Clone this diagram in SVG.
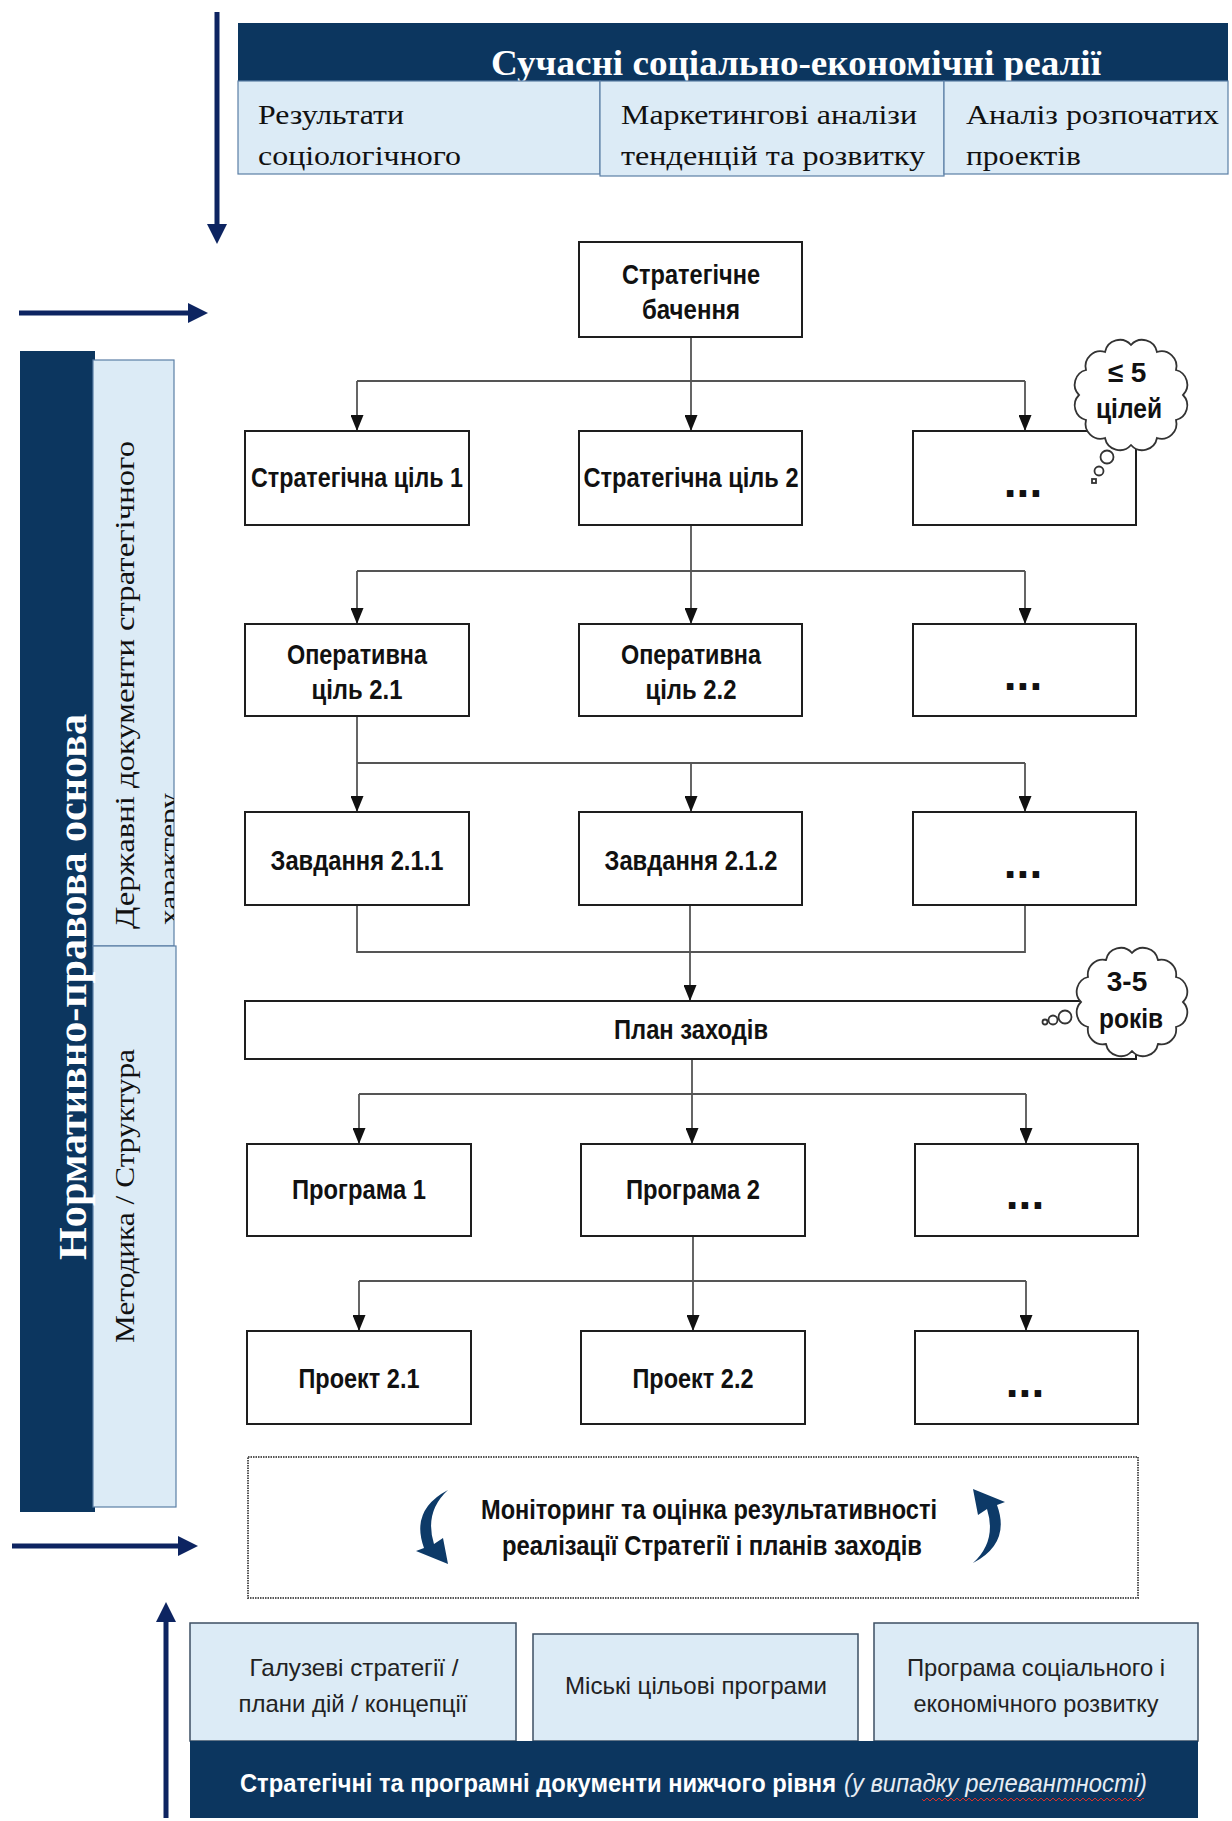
<svg xmlns="http://www.w3.org/2000/svg" width="1232" height="1821" viewBox="0 0 1232 1821">
<style>
.navy{fill:#0c365f}
.cell{fill:#dcebf6;stroke:#5b7fa6;stroke-width:1.2}
.bcell{fill:#dcebf6;stroke:#3d4f63;stroke-width:1.5}
.box{fill:#fff;stroke:#1e1e1e;stroke-width:2}
.lbl{font-family:"Liberation Sans Narrow","Arial Narrow","Liberation Sans",Arial,sans-serif;font-weight:bold;font-size:28px;fill:#111;text-anchor:middle}
.dots{font-family:"Liberation Sans",Arial,sans-serif;font-weight:bold;font-size:46px;fill:#111;text-anchor:middle}
.serif{font-family:"Liberation Serif","Times New Roman",serif;fill:#111;font-size:28px}
.conn{fill:none;stroke:#555;stroke-width:1.8}
.bigarrow{stroke:#0d2461;stroke-width:5;fill:none}
.btxt{font-family:"Liberation Sans Narrow","Arial Narrow","Liberation Sans",Arial,sans-serif;font-size:24px;fill:#222;text-anchor:middle}
.cloud{fill:#fff;stroke:#333;stroke-width:1.8}
</style>
<defs>
<marker id="ah" markerUnits="userSpaceOnUse" markerWidth="16" markerHeight="13" refX="16" refY="6.5" orient="auto">
<path d="M0,0 L16,6.5 L0,13 z" fill="#111"/>
</marker>
<marker id="bh" markerUnits="userSpaceOnUse" markerWidth="20" markerHeight="20" refX="2" refY="10" orient="auto">
<path d="M0,0 L20,10 L0,20 z" fill="#0d2461"/>
</marker>
<clipPath id="clipL"><rect x="93" y="360" width="81" height="586"/></clipPath>
<pattern id="wavy" patternUnits="userSpaceOnUse" x="0" y="1797" width="6" height="5">
<path d="M0,4 L3,1 L6,4" fill="none" stroke="#d9342b" stroke-width="1"/>
</pattern>
<path id="carrow" d="M448,1490 Q410,1510 424,1548 L416,1551 L448,1564 L443,1538 L434,1544 Q424,1512 448,1490 Z" fill="#0d3a68"/>
</defs>
<rect width="1232" height="1821" fill="#fff"/>

<!-- big navy arrows -->
<g id="side-arrows">
<path class="bigarrow" d="M217,12 V226" marker-end="url(#bh)"/>
<path class="bigarrow" d="M19,313 H190" marker-end="url(#bh)"/>
<path class="bigarrow" d="M12,1546 H180" marker-end="url(#bh)"/>
<path class="bigarrow" d="M166,1818 V1620" marker-end="url(#bh)"/>
</g>

<!-- header -->
<g id="header">
<rect class="navy" x="238" y="23" width="990" height="58"/>
<text x="491" y="75" font-family="Liberation Serif,Times New Roman,serif" font-weight="bold" font-size="35" fill="#fff" textLength="610" lengthAdjust="spacingAndGlyphs">Сучасні соціально-економічні реалії</text>
<rect class="cell" x="238" y="81" width="362" height="93"/>
<rect class="cell" x="600" y="81" width="344" height="95"/>
<rect class="cell" x="944" y="81" width="284" height="93"/>
<text class="serif" x="258" y="124" textLength="146" lengthAdjust="spacingAndGlyphs">Результати</text>
<text class="serif" x="258" y="165" textLength="203" lengthAdjust="spacingAndGlyphs">соціологічного</text>
<text class="serif" x="621" y="124" textLength="296" lengthAdjust="spacingAndGlyphs">Маркетингові аналізи</text>
<text class="serif" x="621" y="165" textLength="304" lengthAdjust="spacingAndGlyphs">тенденцій та розвитку</text>
<text class="serif" x="966" y="124" textLength="253" lengthAdjust="spacingAndGlyphs">Аналіз розпочатих</text>
<text class="serif" x="966" y="165" textLength="115" lengthAdjust="spacingAndGlyphs">проектів</text>
</g>

<!-- left side -->
<g id="legal-basis">
<rect class="navy" x="20" y="351" width="75" height="1161"/>
<rect class="cell" x="93" y="360" width="81" height="586"/>
<rect class="cell" x="93" y="946" width="83" height="561"/>
<text transform="translate(86,1260) rotate(-90)" font-family="Liberation Serif,Times New Roman,serif" font-weight="bold" font-size="40" fill="#fff" textLength="546" lengthAdjust="spacingAndGlyphs">Нормативно-правова основа</text>
<g clip-path="url(#clipL)">
<text class="serif" transform="translate(134,929) rotate(-90)" textLength="488" lengthAdjust="spacingAndGlyphs">Державні документи стратегічного</text>
<text class="serif" transform="translate(178,925) rotate(-90)" textLength="132" lengthAdjust="spacingAndGlyphs">характеру</text>
</g>
<text class="serif" transform="translate(134,1343) rotate(-90)" textLength="294" lengthAdjust="spacingAndGlyphs">Методика / Структура</text>
</g>

<!-- connectors -->
<g id="connectors">
<path class="conn" d="M691,337 V431" marker-end="url(#ah)"/>
<path class="conn" d="M357,381 H1025"/>
<path class="conn" d="M357,381 V431" marker-end="url(#ah)"/>
<path class="conn" d="M1025,381 V431" marker-end="url(#ah)"/>

<path class="conn" d="M691,525 V624" marker-end="url(#ah)"/>
<path class="conn" d="M357,571 H1025"/>
<path class="conn" d="M357,571 V624" marker-end="url(#ah)"/>
<path class="conn" d="M1025,571 V624" marker-end="url(#ah)"/>

<path class="conn" d="M357,716 V812" marker-end="url(#ah)"/>
<path class="conn" d="M357,763 H1025"/>
<path class="conn" d="M691,763 V812" marker-end="url(#ah)"/>
<path class="conn" d="M1025,763 V812" marker-end="url(#ah)"/>

<path class="conn" d="M357,905 V952 H1025 V905"/>
<path class="conn" d="M690,905 V1001" marker-end="url(#ah)"/>

<path class="conn" d="M692,1059 V1144" marker-end="url(#ah)"/>
<path class="conn" d="M359,1094 H1026"/>
<path class="conn" d="M359,1094 V1144" marker-end="url(#ah)"/>
<path class="conn" d="M1026,1094 V1144" marker-end="url(#ah)"/>

<path class="conn" d="M693,1236 V1331" marker-end="url(#ah)"/>
<path class="conn" d="M359,1281 H1026"/>
<path class="conn" d="M359,1281 V1331" marker-end="url(#ah)"/>
<path class="conn" d="M1026,1281 V1331" marker-end="url(#ah)"/>
</g>

<!-- nodes -->
<g id="vision"><rect class="box" x="579" y="242" width="223" height="95"/>
<text class="lbl" x="691" y="284" textLength="138" lengthAdjust="spacingAndGlyphs">Стратегічне</text>
<text class="lbl" x="691" y="319" textLength="98" lengthAdjust="spacingAndGlyphs">бачення</text></g>

<g id="goal1"><rect class="box" x="245" y="431" width="224" height="94"/>
<text class="lbl" x="357" y="487" textLength="212" lengthAdjust="spacingAndGlyphs">Стратегічна ціль 1</text></g>
<g id="goal2"><rect class="box" x="579" y="431" width="223" height="94"/>
<text class="lbl" x="691" y="487" textLength="215" lengthAdjust="spacingAndGlyphs">Стратегічна ціль 2</text></g>
<g id="goal3"><rect class="box" x="913" y="431" width="223" height="94"/>
<text class="dots" x="1023" y="497">...</text></g>

<g id="op21"><rect class="box" x="245" y="624" width="224" height="92"/>
<text class="lbl" x="357" y="664" textLength="140" lengthAdjust="spacingAndGlyphs">Оперативна</text>
<text class="lbl" x="357" y="699" textLength="91" lengthAdjust="spacingAndGlyphs">ціль 2.1</text></g>
<g id="op22"><rect class="box" x="579" y="624" width="223" height="92"/>
<text class="lbl" x="691" y="664" textLength="140" lengthAdjust="spacingAndGlyphs">Оперативна</text>
<text class="lbl" x="691" y="699" textLength="91" lengthAdjust="spacingAndGlyphs">ціль 2.2</text></g>
<g id="op3"><rect class="box" x="913" y="624" width="223" height="92"/>
<text class="dots" x="1023" y="690">...</text></g>

<g id="task211"><rect class="box" x="245" y="812" width="224" height="93"/>
<text class="lbl" x="357" y="870" textLength="173" lengthAdjust="spacingAndGlyphs">Завдання 2.1.1</text></g>
<g id="task212"><rect class="box" x="579" y="812" width="223" height="93"/>
<text class="lbl" x="691" y="870" textLength="173" lengthAdjust="spacingAndGlyphs">Завдання 2.1.2</text></g>
<g id="task3"><rect class="box" x="913" y="812" width="223" height="93"/>
<text class="dots" x="1023" y="878">...</text></g>

<g id="plan"><rect class="box" x="245" y="1001" width="891" height="58"/>
<text class="lbl" x="691" y="1039" textLength="154" lengthAdjust="spacingAndGlyphs">План заходів</text></g>

<g id="prog1"><rect class="box" x="247" y="1144" width="224" height="92"/>
<text class="lbl" x="359" y="1199" textLength="134" lengthAdjust="spacingAndGlyphs">Програма 1</text></g>
<g id="prog2"><rect class="box" x="581" y="1144" width="224" height="92"/>
<text class="lbl" x="693" y="1199" textLength="134" lengthAdjust="spacingAndGlyphs">Програма 2</text></g>
<g id="prog3"><rect class="box" x="915" y="1144" width="223" height="92"/>
<text class="dots" x="1025" y="1209">...</text></g>

<g id="proj21"><rect class="box" x="247" y="1331" width="224" height="93"/>
<text class="lbl" x="359" y="1388" textLength="121" lengthAdjust="spacingAndGlyphs">Проект 2.1</text></g>
<g id="proj22"><rect class="box" x="581" y="1331" width="224" height="93"/>
<text class="lbl" x="693" y="1388" textLength="121" lengthAdjust="spacingAndGlyphs">Проект 2.2</text></g>
<g id="proj3"><rect class="box" x="915" y="1331" width="223" height="93"/>
<text class="dots" x="1025" y="1397">...</text></g>

<!-- clouds -->
<g id="cloud-goals">
<path class="cloud" d="M1183,395 A15,15 0 0,1 1176,420 A15,15 0 0,1 1157,438 A15,15 0 0,1 1131,445 A15,15 0 0,1 1105,438 A15,15 0 0,1 1086,420 A15,15 0 0,1 1079,395 A15,15 0 0,1 1086,370 A15,15 0 0,1 1105,352 A15,15 0 0,1 1131,345 A15,15 0 0,1 1157,352 A15,15 0 0,1 1176,370 A15,15 0 0,1 1183,395 Z"/>
<circle class="cloud" cx="1107" cy="457" r="6.5"/>
<circle class="cloud" cx="1099" cy="471" r="4.5"/>
<rect class="cloud" x="1092" y="479" width="4" height="4" stroke-width="1.2"/>
<text class="lbl" x="1127" y="382" font-size="26">≤ 5</text>
<text class="lbl" x="1129" y="418" font-size="26" textLength="66" lengthAdjust="spacingAndGlyphs">цілей</text>
</g>
<g id="cloud-years">
<path class="cloud" d="M1183,1002 A15,15 0 0,1 1176,1027 A15,15 0 0,1 1158,1044 A15,15 0 0,1 1132,1051 A15,15 0 0,1 1106,1044 A15,15 0 0,1 1088,1027 A15,15 0 0,1 1081,1002 A15,15 0 0,1 1088,977 A15,15 0 0,1 1106,960 A15,15 0 0,1 1132,953 A15,15 0 0,1 1158,960 A15,15 0 0,1 1176,977 A15,15 0 0,1 1183,1002 Z"/>
<circle class="cloud" cx="1065" cy="1017" r="6.5"/>
<circle class="cloud" cx="1053" cy="1020" r="4.5"/>
<circle class="cloud" cx="1045" cy="1022" r="2.5" stroke-width="1.2"/>
<text class="lbl" x="1127" y="991" font-size="26">3-5</text>
<text class="lbl" x="1131" y="1028" font-size="26" textLength="64" lengthAdjust="spacingAndGlyphs">років</text>
</g>

<!-- monitoring -->
<g id="monitoring">
<rect x="248" y="1457" width="890" height="141" fill="#fff" stroke="#555" stroke-width="2" stroke-dasharray="1.5,1"/>
<use href="#carrow"/>
<use href="#carrow" transform="rotate(180 710.5 1526.5)"/>
<text class="lbl" x="709" y="1519" font-size="26" textLength="456" lengthAdjust="spacingAndGlyphs">Моніторинг та оцінка результативності</text>
<text class="lbl" x="712" y="1555" font-size="26" textLength="420" lengthAdjust="spacingAndGlyphs">реалізації Стратегії і планів заходів</text>
</g>

<!-- bottom documents -->
<g id="lower-docs">
<rect class="bcell" x="190" y="1623" width="326" height="118"/>
<rect class="bcell" x="533" y="1634" width="325" height="107"/>
<rect class="bcell" x="874" y="1623" width="324" height="118"/>
<text class="btxt" x="354" y="1676" textLength="209" lengthAdjust="spacingAndGlyphs">Галузеві стратегії /</text>
<text class="btxt" x="353" y="1712" textLength="229" lengthAdjust="spacingAndGlyphs">плани дій / концепції</text>
<text class="btxt" x="696" y="1694" textLength="262" lengthAdjust="spacingAndGlyphs">Міські цільові програми</text>
<text class="btxt" x="1036" y="1676" textLength="258" lengthAdjust="spacingAndGlyphs">Програма соціального і</text>
<text class="btxt" x="1036" y="1712" textLength="245" lengthAdjust="spacingAndGlyphs">економічного розвитку</text>
<rect class="navy" x="190" y="1741" width="1008" height="77"/>
<text x="240" y="1792" font-family="Liberation Sans Narrow,Arial Narrow,Liberation Sans,Arial,sans-serif" font-weight="bold" font-size="25" fill="#fff" textLength="596" lengthAdjust="spacingAndGlyphs">Стратегічні та програмні документи нижчого рівня</text>
<text x="844" y="1792" font-family="Liberation Sans Narrow,Arial Narrow,Liberation Sans,Arial,sans-serif" font-style="italic" font-size="25" fill="#e6ecf3" textLength="303" lengthAdjust="spacingAndGlyphs">(у випадку релевантності)</text>
<rect x="922" y="1797" width="222" height="5" fill="url(#wavy)"/>
</g>
</svg>
